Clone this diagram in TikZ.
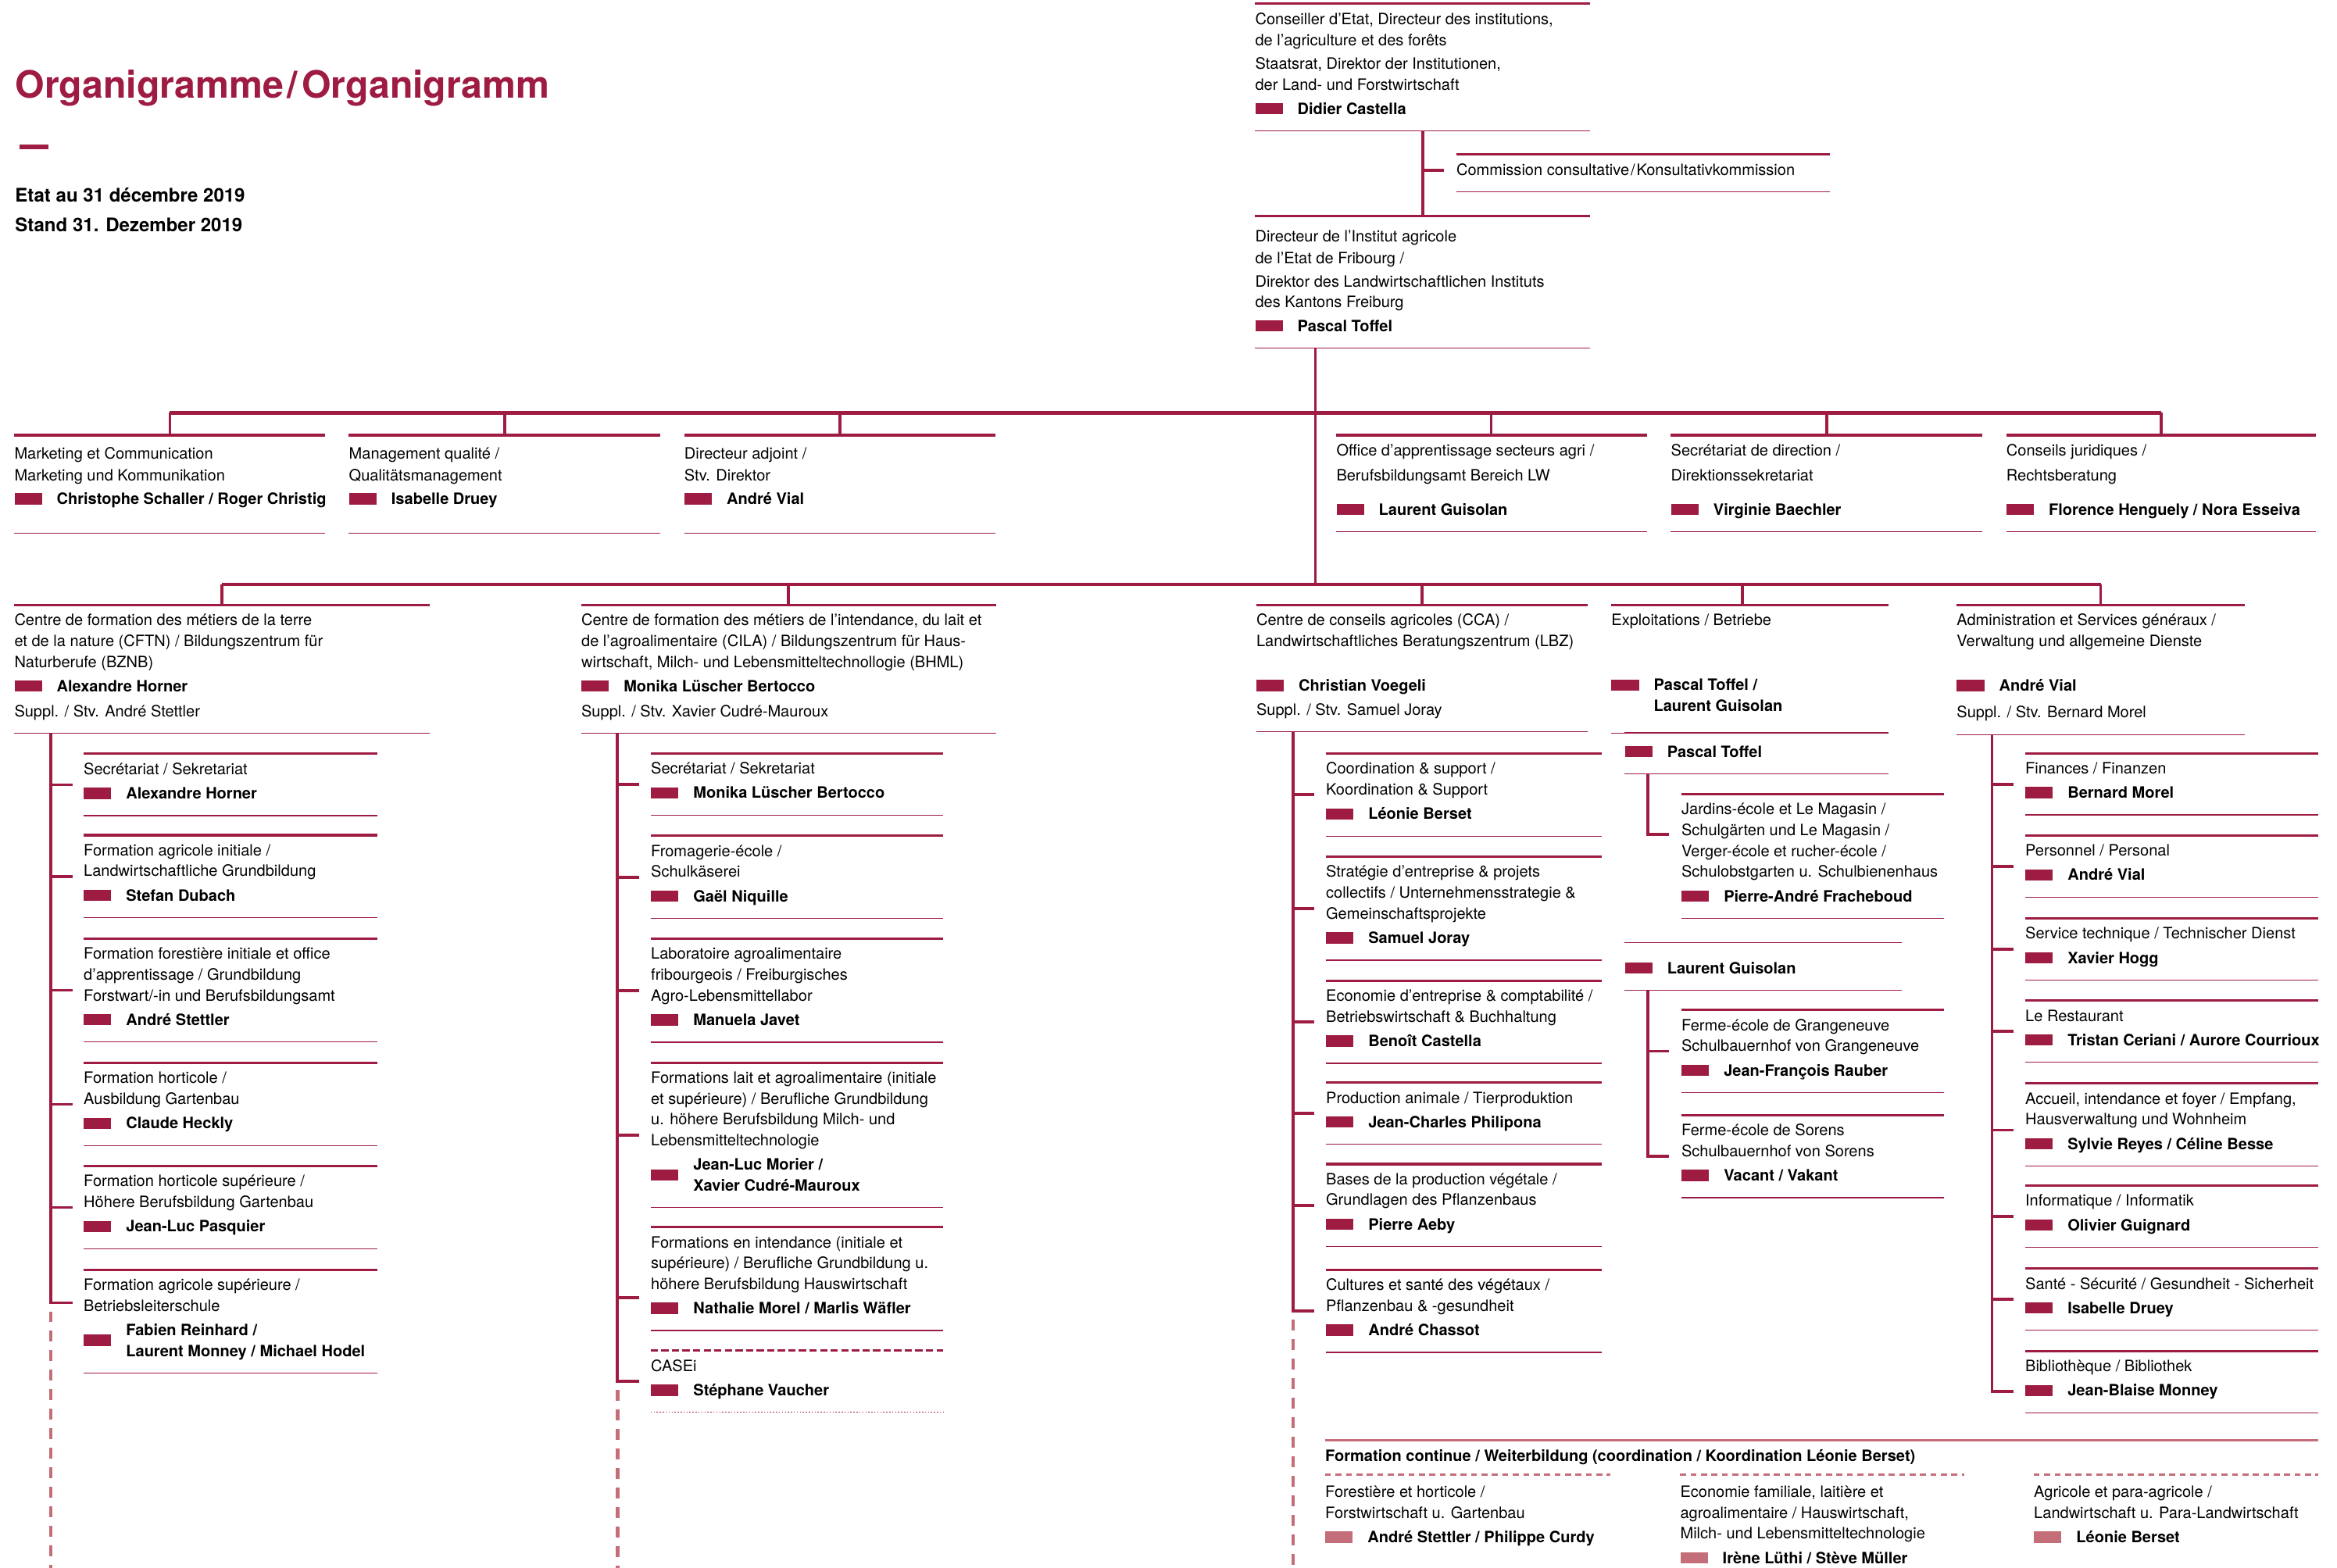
\documentclass[tikz,border=0pt]{standalone}
\usepackage{fontspec}
\setmainfont{TeX Gyre Heros}
\usepackage{xcolor}
\usepackage{tikz}
\definecolor{crim}{RGB}{158, 27, 66}
\definecolor{crimlight}{RGB}{196, 110, 122}
\newcommand{\orgfont}{\fontsize{10.5}{14}\selectfont}
\newcommand{\who}[2][11]{\textcolor{crim}{\rule{18.4pt}{7.5pt}}\hspace{10pt}\textbf{#2}\rule[-#1pt]{0pt}{1pt}}
\newcommand{\whotwo}[2]{\smash{\textcolor{crim}{\rule[-6.9pt]{18.4pt}{7.5pt}}}\hspace{10pt}\textbf{#1}\\\hspace*{28.4pt}\textbf{#2}\rule[-11pt]{0pt}{1pt}}
\newcommand{\whofc}[1]{\textcolor{crimlight}{\rule{18.4pt}{7.5pt}}\hspace{10pt}\textbf{#1}}
\newcommand{\tailstrut}{\rule[-11pt]{0pt}{1pt}}
\newcommand{\padtop}[1]{\rule{0pt}{#1pt}}

\begin{document}
\begin{tikzpicture}[
    x=1pt, y=-1pt,
    toprule/.style={draw=crim, line width=1.6pt},
    botrule/.style={draw=crim, line width=0.7pt},
    conn/.style={draw=crim, line width=2pt},
    bus/.style={draw=crim, line width=2.3pt},
    tail/.style={draw=crimlight, line width=2.4pt, dash pattern=on 7.3pt off 5.8pt, dash phase=7.3pt},
    txt/.style={font=\orgfont, inner sep=0pt, anchor=north west, align=left, yshift=-5.9pt},
    orgbox/.style={txt, append after command={
        ([yshift=5.9pt]\tikzlastnode.north west) edge[toprule] ([xshift=#1pt, yshift=5.9pt]\tikzlastnode.north west)
        (\tikzlastnode.south west) edge[botrule] ([xshift=#1pt]\tikzlastnode.south west)}},
    namebox/.style={txt, append after command={
        ([yshift=5.9pt]\tikzlastnode.north west) edge[botrule] ([xshift=#1pt, yshift=5.9pt]\tikzlastnode.north west)
        (\tikzlastnode.south west) edge[botrule] ([xshift=#1pt]\tikzlastnode.south west)}},
    casebox/.style={txt, append after command={
        ([yshift=5.9pt]\tikzlastnode.north west) edge[toprule, dash pattern=on 4.9pt off 2.2pt] ([xshift=#1pt, yshift=5.9pt]\tikzlastnode.north west)
        (\tikzlastnode.south west) edge[botrule, line width=0.6pt, dash pattern=on 0.8pt off 1.2pt] ([xshift=#1pt]\tikzlastnode.south west)}},
    fcbox/.style={txt, append after command={
        ([yshift=5.9pt]\tikzlastnode.north west) edge[draw=crimlight, line width=1.5pt, dash pattern=on 4pt off 3pt] ([xshift=#1pt, yshift=5.9pt]\tikzlastnode.north west)}},
    fchead/.style={txt, append after command={
        ([yshift=5.9pt]\tikzlastnode.north west) edge[draw=crimlight, line width=1.7pt] ([xshift=#1pt, yshift=5.9pt]\tikzlastnode.north west)}},
]
    \useasboundingbox (0,0) rectangle (1568,1052);
    \coordinate (foot) at (0,1052);

    % Title
    \node[anchor=base west, inner sep=0pt, text=crim, font=\bfseries\fontsize{25.3}{30}\selectfont] (title) at (10,65.8) {Organigramme\kern2.5pt/\kern2.5pt Organigramm};
    \fill[crim] (13,96.8) rectangle (32.6,100);
    \node[anchor=base west, inner sep=0pt, font=\bfseries\fontsize{12.6}{14}\selectfont] (date1) at (10,135.6) {Etat au 31 décembre 2019};
    \node[anchor=base west, inner sep=0pt, font=\bfseries\fontsize{12.6}{14}\selectfont] (date2) at (10,155.4) {Stand 31. Dezember 2019};

    % Top
    \node[orgbox=225] (cons) at (842,2.5) {Conseiller d’Etat, Directeur des institutions,\\de l’agriculture et des forêts\\[1.7pt]Staatsrat, Direktor der Institutionen,\\[0.5pt]der Land- und Forstwirtschaft\\[2pt]\who{Didier Castella}};
    \node[orgbox=251] (comm) at (977,103.5) {Commission consultative\kern1pt/\kern1pt Konsultativkommission\tailstrut};
    \node[orgbox=225] (dir) at (842,145) {\padtop{11.1}Directeur de l’Institut agricole\\[0.5pt]de l’Etat de Fribourg /\\[1.7pt]Direktor des Landwirtschaftlichen Instituts\\des Kantons Freiburg\\[2.1pt]\who{Pascal Toffel}};

    % Row 2
    \node[orgbox=208.5] (ma) at (9.5,292) {\padtop{9.8}Marketing et Communication\\[1pt]Marketing und Kommunikation\\[1.5pt]\who[19.3]{Christophe Schaller / Roger Christig}};
    \node[orgbox=209] (mb) at (234,292) {\padtop{9.8}Management qualité /\\[1pt]Qualitätsmanagement\\[1.5pt]\who[19.3]{Isabelle Druey}};
    \node[orgbox=209] (mc) at (459,292) {\padtop{9.8}Directeur adjoint /\\[1pt]Stv. Direktor\\[1.5pt]\who[19.3]{André Vial}};
    \node[orgbox=208.5] (md) at (896.5,292) {Office d’apprentissage secteurs agri /\\[2.6pt]Berufsbildungsamt Bereich LW\\[9pt]\who{Laurent Guisolan}};
    \node[orgbox=209] (me) at (1121,292) {Secrétariat de direction /\\[2.6pt]Direktionssekretariat\\[9pt]\who{Virginie Baechler}};
    \node[orgbox=208] (mf) at (1346,292) {Conseils juridiques /\\[2.6pt]Rechtsberatung\\[9pt]\who{Florence Henguely / Nora Esseiva}};

    % Row 3 heads
    \node[orgbox=278.6] (c1) at (9.5,405.8) {Centre de formation des métiers de la terre\\et de la nature (CFTN) / Bildungszentrum für\\Naturberufe (BZNB)\\[2.4pt]\who[0]{Alexandre Horner}\\[2.6pt]Suppl. / Stv. André Stettler\tailstrut};
    \node[orgbox=278.5] (c2) at (389.9,405.8) {Centre de formation des métiers de l’intendance, du lait et\\de l’agroalimentaire (CILA) / Bildungszentrum für Haus-\\wirtschaft, Milch- und Lebensmitteltechnollogie (BHML)\\[2.4pt]\who[0]{Monika Lüscher Bertocco}\\[2.6pt]Suppl. / Stv. Xavier Cudré-Mauroux\tailstrut};
    \node[orgbox=222.6] (c3) at (842.8,405.8) {Centre de conseils agricoles (CCA) /\\Landwirtschaftliches Beratungszentrum (LBZ)\\[16pt]\who[0]{Christian Voegeli}\\[2.1pt]Suppl. / Stv. Samuel Joray\tailstrut};
    \node[orgbox=186] (c4) at (1081,405.8) {Exploitations / Betriebe\\[29.8pt]\who[0]{Pascal Toffel /}\\\hspace*{28.4pt}\textbf{Laurent Guisolan}\rule[-14.5pt]{0pt}{1pt}};
    \node[orgbox=193.3] (c5) at (1312.7,405.8) {Administration et Services généraux /\\Verwaltung und allgemeine Dienste\\[16pt]\who[0]{André Vial}\\[4pt]Suppl. / Stv. Bernard Morel\tailstrut};

    % CFTN
    \node[orgbox=197] (s11) at (56,505.8) {Secrétariat / Sekretariat\\[2.4pt]\who{Alexandre Horner}};
    \node[orgbox=197] (s12) at (56,560.4) {Formation agricole initiale /\\Landwirtschaftliche Grundbildung\\[2.4pt]\who{Stefan Dubach}};
    \node[orgbox=197] (s13) at (56,629.8) {Formation forestière initiale et office\\d’apprentissage / Grundbildung\\Forstwart/-in und Berufsbildungsamt\\[2.4pt]\who{André Stettler}};
    \node[orgbox=197] (s14) at (56,713.3) {Formation horticole /\\Ausbildung Gartenbau\\[2.4pt]\who{Claude Heckly}};
    \node[orgbox=197] (s15) at (56,782.5) {Formation horticole supérieure /\\Höhere Berufsbildung Gartenbau\\[2.4pt]\who{Jean-Luc Pasquier}};
    \node[orgbox=197] (s16) at (56,852) {Formation agricole supérieure /\\Betriebsleiterschule\\[2.4pt]\whotwo{Fabien Reinhard /}{Laurent Monney / Michael Hodel}};

    % CILA
    \node[orgbox=196.3] (s21) at (436.6,505.4) {Secrétariat / Sekretariat\\[2.4pt]\who{Monika Lüscher Bertocco}};
    \node[orgbox=196.3] (s22) at (436.6,560.9) {Fromagerie-école /\\Schulkäserei\\[2.4pt]\who{Gaël Niquille}};
    \node[orgbox=196.3] (s23) at (436.6,629.9) {Laboratoire agroalimentaire\\fribourgeois / Freiburgisches\\Agro-Lebensmittellabor\\[2.4pt]\who{Manuela Javet}};
    \node[orgbox=196.3] (s24) at (436.6,713) {Formations lait et agroalimentaire (initiale\\et supérieure) / Berufliche Grundbildung\\u. höhere Berufsbildung Milch- und\\Lebensmitteltechnologie\\[2.4pt]\whotwo{Jean-Luc Morier /}{Xavier Cudré-Mauroux}};
    \node[orgbox=196.3] (s25) at (436.6,823.5) {Formations en intendance (initiale et\\supérieure) / Berufliche Grundbildung u.\\höhere Berufsbildung Hauswirtschaft\\[2.4pt]\who{Nathalie Morel / Marlis Wäfler}};
    \node[casebox=196.3] (s26) at (436.6,906.2) {CASEi\\[2.4pt]\who{Stéphane Vaucher}};

    % CCA
    \node[orgbox=185.2] (s31) at (889.5,505.5) {Coordination \& support /\\Koordination \& Support\\[2.4pt]\who{Léonie Berset}};
    \node[orgbox=185.2] (s32) at (889.5,574.7) {Stratégie d’entreprise \& projets\\collectifs / Unternehmensstrategie \&\\Gemeinschaftsprojekte\\[2.4pt]\who{Samuel Joray}};
    \node[orgbox=185.2] (s33) at (889.5,658.2) {Economie d’entreprise \& comptabilité /\\Betriebswirtschaft \& Buchhaltung\\[2.4pt]\who{Benoît Castella}};
    \node[orgbox=185.2] (s34) at (889.5,726.5) {Production animale / Tierproduktion\\[2.4pt]\who{Jean-Charles Philipona}};
    \node[orgbox=185.2] (s35) at (889.5,781.1) {Bases de la production végétale /\\Grundlagen des Pflanzenbaus\\[2.4pt]\who{Pierre Aeby}};
    \node[orgbox=185.2] (s36) at (889.5,851.9) {Cultures et santé des végétaux /\\Pflanzenbau \& -gesundheit\\[2.4pt]\who{André Chassot}};

    % Exploitations
    \node[namebox=177] (p1) at (1090,491.6) {\padtop{10.4}\who{Pascal Toffel}};
    \node[orgbox=176.2] (s41) at (1128,532.9) {Jardins-école et Le Magasin /\\Schulgärten und Le Magasin /\\Verger-école et rucher-école /\\Schulobstgarten u. Schulbienenhaus\\[2.4pt]\who{Pierre-André Fracheboud}};
    \node[namebox=186] (p2) at (1090,632.5) {\padtop{14.6}\who{Laurent Guisolan}};
    \node[orgbox=176.2] (s42) at (1128,677.6) {Ferme-école de Grangeneuve\\Schulbauernhof von Grangeneuve\\[2.4pt]\who{Jean-François Rauber}};
    \node[orgbox=176.2] (s43) at (1128,748.1) {Ferme-école de Sorens\\Schulbauernhof von Sorens\\[2.4pt]\who{Vacant / Vakant}};

    % Administration
    \node[orgbox=196.6] (s51) at (1358.7,505.5) {Finances / Finanzen\\[2.4pt]\who{Bernard Morel}};
    \node[orgbox=196.6] (s52) at (1358.7,560.6) {Personnel / Personal\\[2.4pt]\who{André Vial}};
    \node[orgbox=196.6] (s53) at (1358.7,616.1) {Service technique / Technischer Dienst\\[2.4pt]\who{Xavier Hogg}};
    \node[orgbox=196.6] (s54) at (1358.7,671.5) {Le Restaurant\\[2.4pt]\who{Tristan Ceriani / Aurore Courrioux}};
    \node[orgbox=196.6] (s55) at (1358.7,727) {Accueil, intendance et foyer / Empfang,\\Hausverwaltung und Wohnheim\\[2.4pt]\who{Sylvie Reyes / Céline Besse}};
    \node[orgbox=196.6] (s56) at (1358.7,795.6) {Informatique / Informatik\\[2.4pt]\who{Olivier Guignard}};
    \node[orgbox=196.6] (s57) at (1358.7,851.1) {Santé - Sécurité / Gesundheit - Sicherheit\\[2.4pt]\who{Isabelle Druey}};
    \node[orgbox=196.6] (s58) at (1358.7,906.6) {Bibliothèque / Bibliothek\\[2.4pt]\who{Jean-Blaise Monney}};

    % Formation continue
    \node[fchead=666.2] (fch) at (889,966.4) {\textbf{Formation continue / Weiterbildung (coordination / Koordination Léonie Berset)}};
    \node[fcbox=191.7] (f1) at (889,989.4) {\padtop{9.2}Forestière et horticole /\\Forstwirtschaft u. Gartenbau\\[2.4pt]\whofc{André Stettler / Philippe Curdy}};
    \node[fcbox=190.7] (f2) at (1127.2,989.4) {\padtop{9.2}Economie familiale, laitière et\\agroalimentaire / Hauswirtschaft,\\Milch- und Lebensmitteltechnologie\\[2.4pt]\whofc{Irène Lüthi / Stève Müller}};
    \node[fcbox=190.7] (f3) at (1364.5,989.4) {\padtop{9.2}Agricole et para-agricole /\\Landwirtschaft u. Para-Landwirtschaft\\[2.4pt]\whofc{Léonie Berset}};

    % Connectors top
    \draw[conn] ([xshift=112.5pt]cons.south west) -- ([xshift=112.5pt, yshift=5.9pt]dir.north west);
    \draw[conn] ([xshift=-8pt, yshift=4.7pt]comm.west) -| ([xshift=112.5pt]cons.south west);
    \coordinate (hub) at ([yshift=19.7pt]c1.north west);
    \draw[conn] ([xshift=40.5pt]dir.south west) coordinate (t0) -- (t0 |- hub);

    % Bus row 2
    \draw[bus] ([xshift=104.5pt, yshift=20.9pt]ma.north west) -- ([xshift=104pt, yshift=20.9pt]mf.north west);
    \foreach \m/\h in {ma/104.5, mb/104.5, mc/104.5, md/104, me/104.5, mf/104}
        \draw[conn] ([xshift=\h pt, yshift=5.9pt]\m.north west) -- ++(0,-15);

    % Bus row 3
    \draw[bus] ([xshift=139.3pt, yshift=19.7pt]c1.north west) -- ([xshift=96.7pt, yshift=19.7pt]c5.north west);
    \foreach \m/\h in {c1/139.3, c2/139.2, c3/111.3, c4/88, c5/96.7}
        \draw[conn] ([xshift=\h pt, yshift=5.9pt]\m.north west) -- ++(0,-13.8);

    % Column 1
    \coordinate (v1) at ([xshift=24.5pt]c1.south west);
    \coordinate (e1) at ([xshift=-7.3pt, yshift=15.5pt]s16.west);
    \draw[conn] (v1) |- (e1);
    \foreach \s in {s11,s12,s13,s14,s15}
        \draw[conn] ([xshift=-7.3pt, yshift=2.95pt]\s.west) -| (v1);
    \draw[tail] (e1 -| v1) -- (foot -| v1);

    % Column 2
    \coordinate (v2) at ([xshift=24.4pt]c2.south west);
    \coordinate (e2) at ([xshift=-7.8pt, yshift=2.95pt]s26.west);
    \draw[conn] (v2) |- (e2);
    \foreach \s/\d in {s21/2.95, s22/2.95, s23/2.95, s24/2.95, s25/-9.6}
        \draw[conn] ([xshift=-7.8pt, yshift=\d pt]\s.west) -| (v2);
    \draw[tail] (e2 -| v2) -- (foot -| v2);

    % Column 3
    \coordinate (v3) at ([xshift=24.7pt]c3.south west);
    \coordinate (e3) at ([xshift=-7.9pt, yshift=2.95pt]s36.west);
    \draw[conn] (v3) |- (e3);
    \foreach \s in {s31,s32,s33,s34,s35}
        \draw[conn] ([xshift=-7.9pt, yshift=2.95pt]\s.west) -| (v3);
    \draw[tail] (e3 -| v3) -- (foot -| v3);

    % Column 4
    \draw[conn] ([xshift=15.8pt]p1.south west) |- ([xshift=-8pt, yshift=17.45pt]s41.west);
    \coordinate (v4) at ([xshift=15.8pt]p2.south west);
    \draw[conn] (v4) |- ([xshift=-8pt, yshift=2.95pt]s43.west);
    \draw[conn] ([xshift=-8pt, yshift=2.95pt]s42.west) -| (v4);

    % Column 5
    \coordinate (v5) at ([xshift=23.8pt]c5.south west);
    \draw[conn] (v5) |- ([xshift=-7.9pt, yshift=-3.4pt]s58.west);
    \foreach \s/\d in {s51/2.95, s52/2.95, s53/2.95, s54/2.95, s55/-0.7, s56/2.95, s57/2.95}
        \draw[conn] ([xshift=-7.9pt, yshift=\d pt]\s.west) -| (v5);
\end{tikzpicture}
\end{document}
